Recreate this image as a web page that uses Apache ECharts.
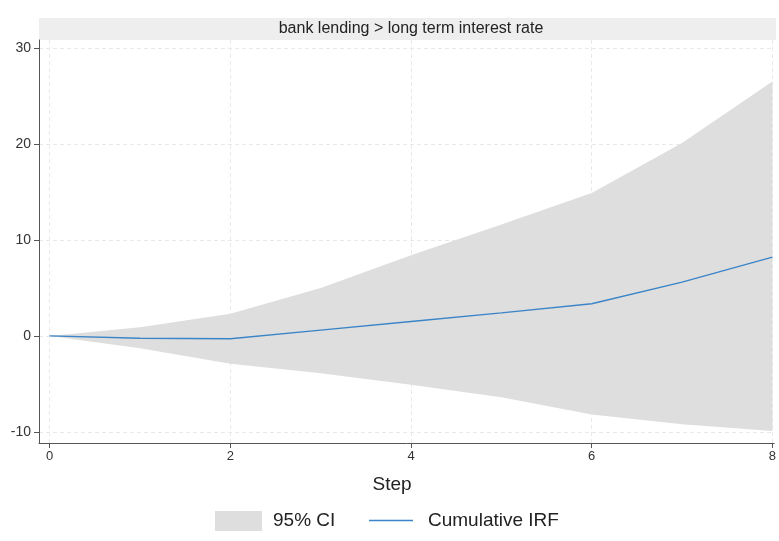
<!DOCTYPE html>
<html>
<head>
<meta charset="utf-8">
<script src="https://cdn.jsdelivr.net/npm/echarts@6/dist/echarts.min.js"></script>
<style>html,body{margin:0;padding:0;background:#fff}#c{width:779px;height:541px}</style>
</head>
<body>
<div id="c"></div>
<script>
const steps = [0, 1, 2, 3, 4, 5, 6, 7, 8];
const irf   = [0, -0.25, -0.3, 0.6, 1.5, 2.4, 3.35, 5.6, 8.2];
const upper = [0, 0.9, 2.3, 5.0, 8.4, 11.6, 14.9, 20.1, 26.5];
const lower = [0, -1.3, -2.9, -3.9, -5.1, -6.4, -8.2, -9.2, -9.9];
const xTicks = [0, 2, 4, 6, 8];
const yTicks = [-10, 0, 10, 20, 30];
const panelTitle = 'bank lending > long term interest rate';
const xTitle = 'Step';
const ciName = '95% CI';
const irfName = 'Cumulative IRF';

const FONT = '"Liberation Sans", Arial, Helvetica, sans-serif';
const CI_COLOR = '#dedede';
const LINE_COLOR = '#3a84c8';
const chart = echarts.init(document.getElementById('c'), null, {renderer: 'canvas'});

const irfData = steps.map((s, i) => [s, irf[i]]);

const axisLine = {show: true, onZero: false, lineStyle: {color: '#555', width: 1}};
const tickStyle = {show: true, length: 5, lineStyle: {color: '#555', width: 1}};
const splitLine = {show: true, lineStyle: {color: '#e9e9e9', type: [4, 3], width: 1}};

chart.setOption({
  animation: false,
  backgroundColor: '#fff',
  textStyle: {fontFamily: FONT},
  grid: {left: 39, right: 3, top: 40, bottom: 98, containLabel: false},
  xAxis: {
    type: 'value', min: -0.118, max: 8.02,
    axisLine: axisLine,
    axisTick: Object.assign({customValues: xTicks}, tickStyle),
    axisLabel: {customValues: xTicks, fontSize: 13, color: '#333', margin: 7, fontFamily: FONT},
    splitLine: splitLine,
  },
  yAxis: {
    type: 'value', min: -11.16, max: 30.83,
    axisLine: axisLine,
    axisTick: Object.assign({customValues: yTicks}, tickStyle),
    axisLabel: {customValues: yTicks, fontSize: 14, color: '#333', margin: 8, fontFamily: FONT},
    splitLine: splitLine,
  },
  legend: [
    {
      left: 215, top: 511, padding: 0, itemWidth: 47, itemHeight: 20,
      data: [{name: ciName, icon: 'rect', itemStyle: {color: CI_COLOR, borderWidth: 0}}],
      textStyle: {fontSize: 19, color: '#222', fontFamily: FONT, padding: [0, 0, 0, 6]},
      selectedMode: false
    },
    {
      left: 369, top: 511, padding: 0, itemWidth: 44, itemHeight: 1.5,
      data: [{name: irfName, icon: 'rect', itemStyle: {color: LINE_COLOR, borderWidth: 0}}],
      textStyle: {fontSize: 19, color: '#222', fontFamily: FONT, padding: [0, 0, 0, 10]},
      selectedMode: false
    }
  ],
  graphic: [
    {type: 'rect', shape: {x: 39, y: 18, width: 737, height: 22}, style: {fill: '#eeeeee'}, z: 0},
    {type: 'text', x: 411, y: 29, style: {text: panelTitle, fill: '#222', font: '16px ' + FONT, textAlign: 'center', textVerticalAlign: 'middle'}, z: 1},
    {type: 'text', x: 392, y: 485, style: {text: xTitle, fill: '#222', font: '19px ' + FONT, textAlign: 'center', textVerticalAlign: 'middle'}, z: 1}
  ],
  series: [
    {
      name: ciName, type: 'custom', data: [[0, 0]], silent: true, z: 1,
      itemStyle: {color: CI_COLOR},
      renderItem: function (params, api) {
        const pts = [];
        for (let i = 0; i < steps.length; i++) pts.push(api.coord([steps[i], upper[i]]));
        for (let i = steps.length - 1; i >= 0; i--) pts.push(api.coord([steps[i], lower[i]]));
        return {type: 'polygon', shape: {points: pts}, style: {fill: CI_COLOR}};
      }
    },
    {
      name: irfName, type: 'line', data: irfData, symbol: 'none',
      itemStyle: {color: LINE_COLOR}, lineStyle: {color: LINE_COLOR, width: 1.4}, z: 3
    }
  ]
});
</script>
</body>
</html>
